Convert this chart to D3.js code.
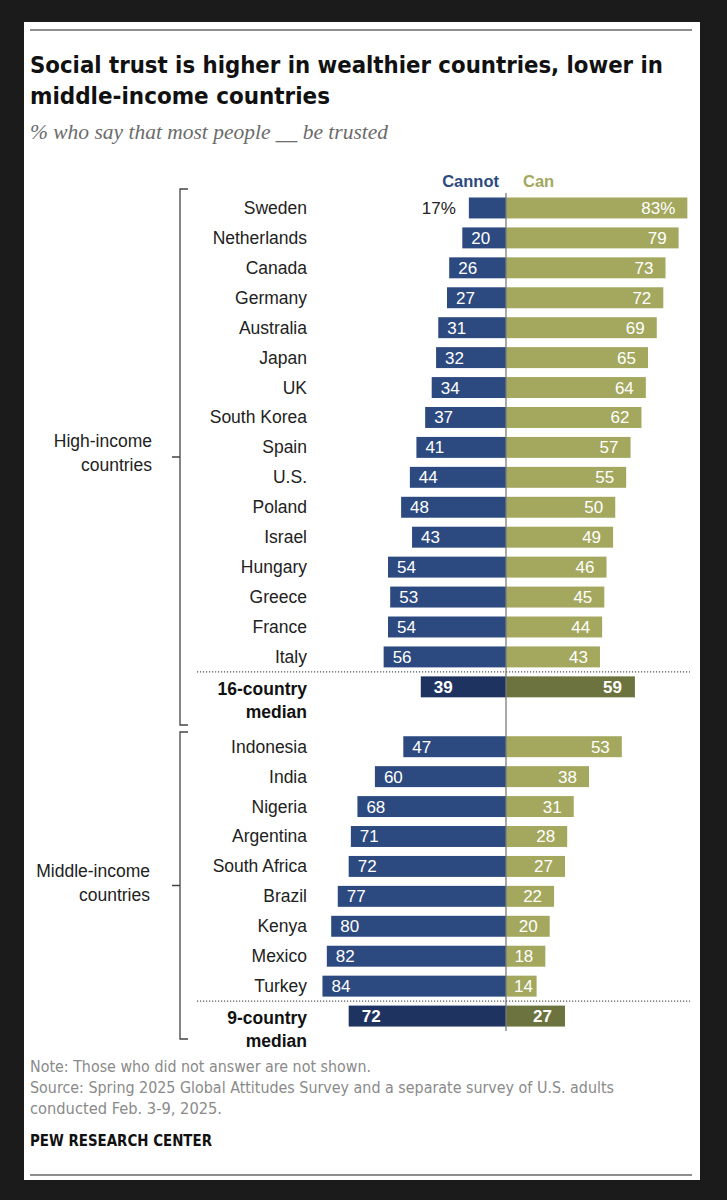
<!DOCTYPE html>
<html>
<head>
<meta charset="utf-8">
<script src="https://cdn.jsdelivr.net/npm/d3@7"></script>
<style>
  body { margin: 0; background: #1b1b1b; }
  svg { display: block; }
  .country { font-family: "Liberation Sans", Arial, sans-serif; font-size: 17.5px; fill: #222; }
  .val { font-family: "Liberation Sans", Arial, sans-serif; font-size: 17px; fill: #fff; }
  .narrow { font-family: "Liberation Sans Narrow", "DejaVu Sans Condensed", sans-serif; }
</style>
</head>
<body>
<svg width="727" height="1200"></svg>
<script>
// Data: high-income countries
var highCountries = ["Sweden", "Netherlands", "Canada", "Germany", "Australia", "Japan", "UK", "South Korea",
                     "Spain", "U.S.", "Poland", "Israel", "Hungary", "Greece", "France", "Italy"];
var highCannot = [17, 20, 26, 27, 31, 32, 34, 37, 41, 44, 48, 43, 54, 53, 54, 56];
var highCan    = [83, 79, 73, 72, 69, 65, 64, 62, 57, 55, 50, 49, 46, 45, 44, 43];
var highMedian = { cannot: 39, can: 59 };

// Data: middle-income countries
var midCountries = ["Indonesia", "India", "Nigeria", "Argentina", "South Africa", "Brazil", "Kenya", "Mexico", "Turkey"];
var midCannot = [47, 60, 68, 71, 72, 77, 80, 82, 84];
var midCan    = [53, 38, 31, 28, 27, 22, 20, 18, 14];
var midMedian = { cannot: 72, can: 27 };

var svg = d3.select("svg");

// background panel + rules
svg.append("rect").attr("x", 24).attr("y", 22).attr("width", 676).attr("height", 1158).attr("fill", "#fff");
svg.append("line").attr("x1", 30).attr("x2", 692).attr("y1", 30).attr("y2", 30)
   .attr("stroke", "#8e8e8e").attr("stroke-width", 2);
svg.append("line").attr("x1", 30).attr("x2", 692).attr("y1", 1175).attr("y2", 1175)
   .attr("stroke", "#8e8e8e").attr("stroke-width", 2);

// fit a text line to the width it has in the original
function fit(sel, w) {
  sel.attr("textLength", w).attr("lengthAdjust", "spacingAndGlyphs");
  return sel;
}

// title and subtitle
var title = svg.append("text").attr("class", "narrow")
   .attr("font-weight", "bold").attr("font-size", 23.5).attr("fill", "#111");
fit(title.append("tspan").attr("x", 30).attr("y", 73).text("Social trust is higher in wealthier countries, lower in"), 633);
fit(title.append("tspan").attr("x", 30).attr("y", 104).text("middle-income countries"), 300);

fit(svg.append("text").attr("x", 30).attr("y", 139)
   .attr("font-family", "'Liberation Serif', serif").attr("font-style", "italic")
   .attr("font-size", 20).attr("fill", "#6b6b6b")
   .text("% who say that most people __ be trusted"), 358);

// build the rows: countries, medians and a gap between groups
var rows = [];
highCountries.forEach(function(c, i) { rows.push({ key: c, label: c, cannot: highCannot[i], can: highCan[i], med: false }); });
rows.push({ key: "med16", label: ["16-country", "median"], cannot: highMedian.cannot, can: highMedian.can, med: true });
rows.push({ key: "gap" });
midCountries.forEach(function(c, i) { rows.push({ key: c, label: c, cannot: midCannot[i], can: midCan[i], med: false }); });
rows.push({ key: "med9", label: ["9-country", "median"], cannot: midMedian.cannot, can: midMedian.can, med: true });

var center = 506;
var x = d3.scaleLinear().domain([0, 100]).range([0, 218.5]);
var y = d3.scaleBand().domain(rows.map(function(d) { return d.key; }))
    .range([193, 193 + rows.length * 29.93]).paddingInner(0.3).paddingOuter(0.15);

var colors = { cannot: "#2d4a80", can: "#a3a85e", cannotMed: "#1e3360", canMed: "#6c733f" };

var data = rows.filter(function(d) { return d.key !== "gap"; });

// legend
svg.append("text").attr("x", 499).attr("y", 187).attr("text-anchor", "end")
   .attr("font-family", "'Liberation Sans', Arial, sans-serif").attr("font-weight", "bold")
   .attr("font-size", 16.5).attr("fill", colors.cannot).text("Cannot");
svg.append("text").attr("x", 523).attr("y", 187)
   .attr("font-family", "'Liberation Sans', Arial, sans-serif").attr("font-weight", "bold")
   .attr("font-size", 16.5).attr("fill", colors.can).text("Can");

var g = svg.append("g");

// cannot bars
g.selectAll(".bar-cannot").data(data).enter().append("rect")
  .attr("class", "bar-cannot")
  .attr("x", function(d) { return center - x(d.cannot); })
  .attr("y", function(d) { return y(d.key); })
  .attr("width", function(d) { return x(d.cannot); })
  .attr("height", y.bandwidth())
  .attr("fill", function(d) { return d.med ? colors.cannotMed : colors.cannot; });

// can bars
g.selectAll(".bar-can").data(data).enter().append("rect")
  .attr("class", "bar-can")
  .attr("x", center)
  .attr("y", function(d) { return y(d.key); })
  .attr("width", function(d) { return x(d.can); })
  .attr("height", y.bandwidth())
  .attr("fill", function(d) { return d.med ? colors.canMed : colors.can; });

// cannot values (Sweden sits outside the bar with a % sign)
g.selectAll(".val-cannot").data(data).enter().append("text")
  .attr("class", "val")
  .attr("x", function(d, i) { return i === 0 ? center - x(d.cannot) - 13 : center - x(d.cannot) + (d.med ? 13 : 9); })
  .attr("y", function(d) { return y(d.key) + y.bandwidth() / 2 + 6; })
  .attr("text-anchor", function(d, i) { return i === 0 ? "end" : "start"; })
  .attr("font-weight", function(d) { return d.med ? "bold" : null; })
  .style("fill", function(d, i) { return i === 0 ? "#222" : "#fff"; })
  .text(function(d, i) { return i === 0 ? d.cannot + "%" : d.cannot; });

// can values, kept clear of the center line on short bars
g.selectAll(".val-can").data(data).enter().append("text")
  .attr("class", "val")
  .attr("x", function(d) { return Math.max(center + x(d.can) - (d.med ? 13 : 12), center + 27); })
  .attr("y", function(d) { return y(d.key) + y.bandwidth() / 2 + 6; })
  .attr("text-anchor", "end")
  .attr("font-weight", function(d) { return d.med ? "bold" : null; })
  .text(function(d, i) { return i === 0 ? d.can + "%" : d.can; });

// country labels
data.forEach(function(d) {
  var cy = y(d.key) + y.bandwidth() / 2;
  if (d.med) {
    var t = svg.append("text").attr("class", "country").attr("text-anchor", "end")
      .attr("font-weight", "bold").style("fill", "#111");
    t.append("tspan").attr("x", 307).attr("y", cy + 8).text(d.label[0]);
    t.append("tspan").attr("x", 307).attr("y", cy + 31).text(d.label[1]);
  } else {
    svg.append("text").attr("class", "country").attr("text-anchor", "end")
      .attr("x", 307).attr("y", cy + 6).text(d.label);
  }
});

// center line
svg.append("line").attr("x1", center).attr("x2", center).attr("y1", 193).attr("y2", 1031)
   .attr("stroke", "#7a7a7a").attr("stroke-width", 1.3);

// dotted separators above medians
["med16", "med9"].forEach(function(k) {
  var yy = y(k) - (y.step() - y.bandwidth()) / 2;
  svg.append("line").attr("x1", 197).attr("x2", 690).attr("y1", yy).attr("y2", yy)
     .attr("stroke", "#555").attr("stroke-width", 1.2).attr("stroke-dasharray", "1.2,1.8");
});

// group brackets
function bracket(top, bottom, lines, labelRight, baseline) {
  var mid = (top + bottom) / 2;
  svg.append("path")
    .attr("d", "M188," + top + " H180 V" + bottom + " H188 M180," + mid + " H172")
    .attr("fill", "none").attr("stroke", "#444").attr("stroke-width", 1.3);
  var t = svg.append("text").attr("class", "country").attr("text-anchor", "end");
  lines.forEach(function(l, i) {
    t.append("tspan").attr("x", labelRight).attr("y", baseline + i * 24).text(l);
  });
}
bracket(189, 725, ["High-income", "countries"], 152, 447);
bracket(732, 1039, ["Middle-income", "countries"], 150, 877);

// footer
var foot = svg.append("text").attr("class", "narrow").attr("font-size", 15.5).attr("fill", "#8a8a8a");
fit(foot.append("tspan").attr("x", 30).attr("y", 1072).text("Note: Those who did not answer are not shown."), 341);
fit(foot.append("tspan").attr("x", 30).attr("y", 1093).text("Source: Spring 2025 Global Attitudes Survey and a separate survey of U.S. adults"), 584);
fit(foot.append("tspan").attr("x", 30).attr("y", 1114).text("conducted Feb. 3-9, 2025."), 192);

fit(svg.append("text").attr("class", "narrow").attr("x", 30).attr("y", 1146)
   .attr("font-size", 15.5).attr("font-weight", "bold").attr("fill", "#111")
   .text("PEW RESEARCH CENTER"), 182);
</script>
</body>
</html>
